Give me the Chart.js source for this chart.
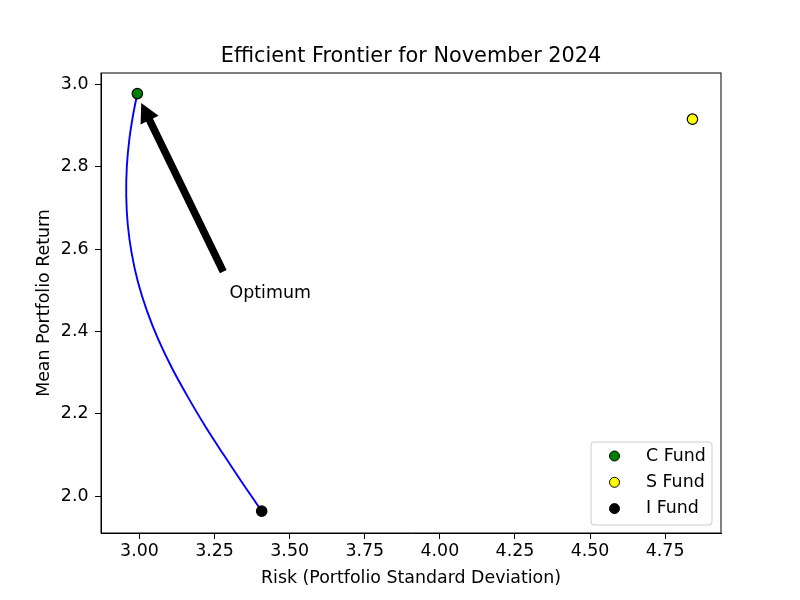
<!DOCTYPE html>
<html>
<head>
<meta charset="utf-8">
<script src="https://cdn.jsdelivr.net/npm/chart.js@4.4.1/dist/chart.umd.min.js"></script>
<style>
  body { margin: 0; background: #fff; }
</style>
</head>
<body>
<canvas id="frontier" width="800" height="600"></canvas>
<script>
// frontier curve, from I Fund up to C Fund
const curveRisk = [3.407, 3.345, 3.281, 3.219, 3.162, 3.109, 3.063, 3.025, 2.995, 2.974, 2.961, 2.956, 2.958, 2.967, 2.980, 2.993];
const curveReturn = [1.964, 2.030, 2.100, 2.170, 2.240, 2.310, 2.380, 2.450, 2.520, 2.590, 2.660, 2.730, 2.800, 2.870, 2.930, 2.977];

const fundNames = ['C Fund', 'S Fund', 'I Fund'];
const fundRisk = [2.993, 4.841, 3.407];
const fundReturn = [2.977, 2.915, 1.964];
const fundColors = ['#008000', '#ffff00', '#000000'];

const xTicks = [3.00, 3.25, 3.50, 3.75, 4.00, 4.25, 4.50, 4.75];
const yTicks = [2.0, 2.2, 2.4, 2.6, 2.8, 3.0];

// annotation: arrow tail -> tip, and label spot
const arrowTail = [3.279, 2.545];
const arrowTip = [3.006, 2.954];
const labelPos = [3.3, 2.482];
const labelText = 'Optimum';
const titleText = 'Efficient Frontier for November 2024';

const FONT = 'DejaVu Sans';
const FS = 17.4;

const frameAndNotes = {
    id: 'frameAndNotes',
    afterDatasetsDraw(chart) {
        const ctx = chart.ctx;
        const xs = chart.scales.x, ys = chart.scales.y;

        // arrow
        const tx = xs.getPixelForValue(arrowTail[0]), ty = ys.getPixelForValue(arrowTail[1]);
        const hx = xs.getPixelForValue(arrowTip[0]), hy = ys.getPixelForValue(arrowTip[1]);
        const ang = Math.atan2(hy - ty, hx - tx);
        const len = Math.hypot(hx - tx, hy - ty);
        const shaft = 7.5, headW = 20, headL = 19;
        ctx.save();
        ctx.translate(tx, ty);
        ctx.rotate(ang);
        ctx.beginPath();
        ctx.moveTo(0, -shaft / 2);
        ctx.lineTo(len - headL, -shaft / 2);
        ctx.lineTo(len - headL, -headW / 2);
        ctx.lineTo(len, 0);
        ctx.lineTo(len - headL, headW / 2);
        ctx.lineTo(len - headL, shaft / 2);
        ctx.lineTo(0, shaft / 2);
        ctx.closePath();
        ctx.fillStyle = '#000';
        ctx.fill();
        ctx.restore();

        ctx.save();
        ctx.font = FS + 'px "' + FONT + '"';
        ctx.fillStyle = '#000';
        ctx.textBaseline = 'alphabetic';
        ctx.textAlign = 'left';
        ctx.fillText(labelText, xs.getPixelForValue(labelPos[0]), ys.getPixelForValue(labelPos[1]));
        ctx.restore();
    },
    afterDraw(chart) {
        const ctx = chart.ctx;
        const area = chart.chartArea;
        ctx.save();
        ctx.strokeStyle = '#000';
        ctx.lineWidth = 1;
        ctx.strokeRect(area.left, area.top, area.right - area.left, area.bottom - area.top);

        // title centred over the axes
        ctx.font = '20.8px "' + FONT + '"';
        ctx.fillStyle = '#000';
        ctx.textAlign = 'center';
        ctx.textBaseline = 'alphabetic';
        ctx.fillText(titleText, (area.left + area.right) / 2, area.top - 11.5);

        // legend, lower right inside the axes
        const boxW = 121, boxH = 83;
        const bx = area.right - 9 - boxW, by = area.bottom - 8 - boxH;
        ctx.beginPath();
        ctx.roundRect(bx, by, boxW, boxH, 3);
        ctx.fillStyle = 'rgba(255,255,255,0.8)';
        ctx.fill();
        ctx.strokeStyle = '#cccccc';
        ctx.lineWidth = 1;
        ctx.stroke();
        ctx.font = FS + 'px "' + FONT + '"';
        ctx.textBaseline = 'middle';
        ctx.textAlign = 'left';
        fundNames.forEach((name, i) => {
            const cy = by + 14 + i * 26.3;
            ctx.beginPath();
            ctx.arc(bx + 23.5, cy, 5, 0, Math.PI * 2);
            ctx.fillStyle = fundColors[i];
            ctx.fill();
            ctx.strokeStyle = '#000';
            ctx.lineWidth = 1;
            ctx.stroke();
            ctx.fillStyle = '#000';
            ctx.fillText(name, bx + 55, cy);
        });
        ctx.restore();
    }
};

const curvePoints = curveRisk.map((r, i) => ({ x: r, y: curveReturn[i] }));

const datasets = [{
    label: 'frontier',
    data: curvePoints,
    showLine: true,
    borderColor: '#0000ff',
    borderWidth: 1.9,
    tension: 0.35,
    pointRadius: 0,
    order: 5
}];
fundNames.forEach((name, i) => {
    datasets.push({
        label: name,
        data: [{ x: fundRisk[i], y: fundReturn[i] }],
        backgroundColor: fundColors[i],
        borderColor: '#000',
        borderWidth: 1.2,
        pointRadius: 5.2,
        order: 0
    });
});

Chart.defaults.font.family = FONT;
Chart.defaults.color = '#000';

new Chart(document.getElementById('frontier').getContext('2d'), {
    type: 'scatter',
    data: { datasets: datasets },
    options: {
        responsive: false,
        animation: false,
        layout: { padding: { left: 0, right: 79, top: 73, bottom: 0 } },
        scales: {
            x: {
                type: 'linear',
                min: 2.872,
                max: 4.936,
                afterBuildTicks: s => { s.ticks = xTicks.map(v => ({ value: v })); },
                afterFit: s => { s.height = 67; },
                ticks: {
                    padding: 2.5,
                    font: { size: FS },
                    callback: v => Number(v).toFixed(2)
                },
                grid: { drawOnChartArea: false, drawTicks: true, tickLength: 6, color: '#000' },
                border: { display: true, color: '#000', width: 1 },
                title: {
                    display: true,
                    text: 'Risk (Portfolio Standard Deviation)',
                    font: { size: FS },
                    padding: { top: 0, bottom: 11.5 }
                }
            },
            y: {
                type: 'linear',
                min: 1.911,
                max: 3.027,
                afterBuildTicks: s => { s.ticks = yTicks.map(v => ({ value: v })); },
                afterFit: s => { s.width = 101; },
                ticks: {
                    padding: 6.5,
                    font: { size: FS },
                    callback: v => Number(v).toFixed(1)
                },
                grid: { drawOnChartArea: false, drawTicks: true, tickLength: 6, color: '#000' },
                border: { display: true, color: '#000', width: 1 },
                title: {
                    display: true,
                    text: 'Mean Portfolio Return',
                    font: { size: FS },
                    padding: { top: 34.5, bottom: 0 }
                }
            }
        },
        plugins: {
            legend: { display: false },
            tooltip: { enabled: false },
            title: { display: false }
        }
    },
    plugins: [frameAndNotes]
});
</script>
</body>
</html>
